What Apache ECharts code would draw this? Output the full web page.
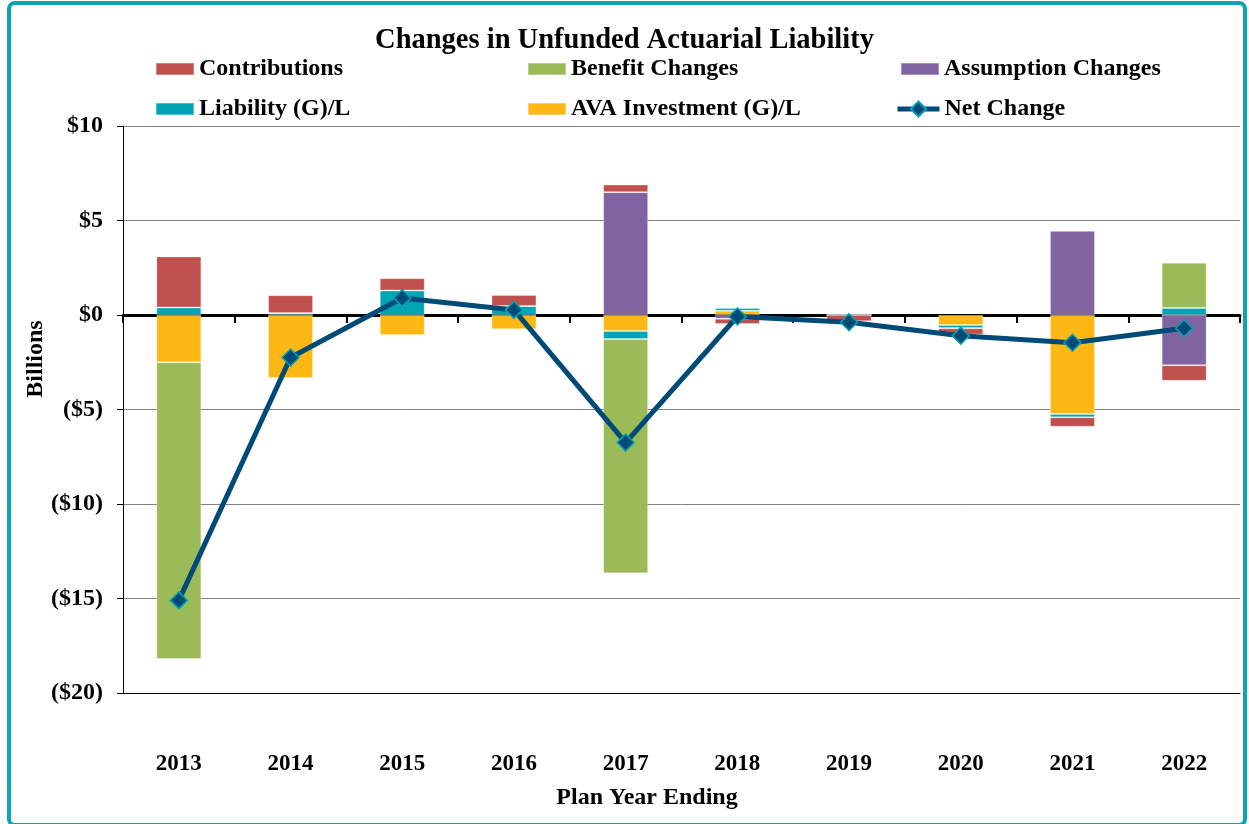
<!DOCTYPE html>
<html>
<head>
<meta charset="utf-8">
<script src="https://cdn.jsdelivr.net/npm/echarts@6/dist/echarts.min.js"></script>
<style>
html,body{margin:0;padding:0;background:#fff;}
#c{width:1249px;height:824px;}
</style>
</head>
<body>
<div id="c"></div>
<script>
var years = ['2013','2014','2015','2016','2017','2018','2019','2020','2021','2022'];
var contributions = [2.7, 0.95, 0.65, 0.58, 0.4, -0.27, -0.33, -0.33, -0.5, -0.82];
var benefitChanges = [-15.7, 0, 0, 0, -12.4, 0, 0, 0, 0, 2.4];
var assumptionChanges = [0, 0, 0, 0, 6.5, -0.2, 0, 0, 4.46, -2.66];
var liabilityGL = [0.4, 0.1, 1.3, 0.48, -0.42, 0.15, 0, -0.17, -0.17, 0.37];
var avaInvestmentGL = [-2.5, -3.33, -1.06, -0.75, -0.85, 0.22, 0, -0.53, -5.24, 0];
var netChange = [-15.1, -2.25, 0.9, 0.27, -6.75, -0.08, -0.38, -1.1, -1.47, -0.7];
var yTicks = {min: -20, max: 10, interval: 5};

var FONT = '"Liberation Serif", "Times New Roman", serif';
var C = {
  contrib: '#C0504D', benefit: '#9BBB59', assump: '#8064A2',
  liab: '#00A5B5', ava: '#FDB813', net: '#004A78'
};

function barSeries(name, data, color) {
  return {
    name: name, type: 'bar', stack: 'total', stackStrategy: 'samesign',
    data: data, barWidth: 45, xAxisIndex: 0, yAxisIndex: 0,
    itemStyle: {color: color, borderColor: 'rgba(255,255,255,0.3)', borderWidth: 1},
    emphasis: {disabled: true}
  };
}

function legendAt(name, left, top, isLine) {
  var lg = {
    data: [{name: name, icon: isLine ? undefined : 'rect'}], left: left, top: top,
    itemWidth: isLine ? 42 : 38, itemHeight: isLine ? 19 : 12, itemGap: 0, padding: 0,
    selectedMode: false,
    textStyle: {fontFamily: FONT, fontWeight: 'bold', fontSize: 24, color: '#000'}
  };
  if (isLine) {
    lg.lineStyle = {width: 5, color: C.net};
  }
  return lg;
}

var chart = echarts.init(document.getElementById('c'), null, {renderer: 'canvas'});
chart.setOption({
  backgroundColor: '#fff',
  animation: false,
  title: {
    text: 'Changes in Unfunded Actuarial Liability',
    left: 'center', top: 21,
    textStyle: {fontFamily: FONT, fontWeight: 'bold', fontSize: 28.5, color: '#000'}
  },
  legend: [
    legendAt('Contributions', 155, 57),
    legendAt('Liability (G)/L', 155, 97),
    legendAt('Benefit Changes', 527, 57),
    legendAt('AVA Investment (G)/L', 527, 97),
    legendAt('Assumption Changes', 900, 57),
    legendAt('Net Change', 895, 97, true)
  ],
  grid: {left: 123, right: 9, top: 126, bottom: 131, containLabel: false},
  xAxis: [
    {
      type: 'category', data: years, position: 'bottom',
      axisLine: {onZero: false, lineStyle: {color: '#000', width: 1}},
      axisTick: {show: false},
      axisLabel: {margin: 60, fontFamily: FONT, fontWeight: 'bold', fontSize: 23, color: '#000'},
      splitLine: {show: false}
    },
    {
      type: 'category', data: years, position: 'top',
      axisLine: {onZero: true, lineStyle: {color: '#000', width: 3}},
      axisTick: {show: true, inside: true, interval: 0, length: 8, lineStyle: {color: '#000', width: 2}},
      axisLabel: {show: false},
      splitLine: {show: false}
    }
  ],
  yAxis: {
    type: 'value', min: yTicks.min, max: yTicks.max, interval: yTicks.interval,
    axisLine: {show: true, lineStyle: {color: '#000', width: 1}},
    axisTick: {show: true, length: 6, lineStyle: {color: '#000'}},
    axisLabel: {
      margin: 20, fontFamily: FONT, fontWeight: 'bold', fontSize: 24, color: '#000',
      formatter: function (v) { return v < 0 ? '($' + (-v) + ')' : '$' + v; }
    },
    splitLine: {show: true, lineStyle: {color: '#808080', width: 1}}
  },
  series: [
    barSeries('AVA Investment (G)/L', avaInvestmentGL, C.ava),
    barSeries('Liability (G)/L', liabilityGL, C.liab),
    barSeries('Assumption Changes', assumptionChanges, C.assump),
    barSeries('Benefit Changes', benefitChanges, C.benefit),
    barSeries('Contributions', contributions, C.contrib),
    {
      name: 'Net Change', type: 'line', data: netChange, xAxisIndex: 0, yAxisIndex: 0,
      z: 10, symbol: 'diamond', symbolSize: 17,
      lineStyle: {color: C.net, width: 5},
      itemStyle: {color: C.net, borderColor: '#00A5B5', borderWidth: 1.5},
      emphasis: {disabled: true}
    }
  ],
  graphic: [
    {
      type: 'text', x: 36, y: 359, rotation: Math.PI / 2, silent: true,
      style: {text: 'Billions', fontFamily: FONT, fontWeight: 'bold', fontSize: 24,
              fill: '#000', align: 'center', verticalAlign: 'middle'}
    },
    {
      type: 'text', x: 647, y: 798, silent: true,
      style: {text: 'Plan Year Ending', fontFamily: FONT, fontWeight: 'bold', fontSize: 24,
              fill: '#000', align: 'center', verticalAlign: 'middle'}
    },
    {
      type: 'rect', z: 100, silent: true,
      shape: {x: 9, y: 3, width: 1236, height: 822, r: 6},
      style: {fill: null, stroke: '#0AA5B5', lineWidth: 4}
    }
  ]
});
</script>
</body>
</html>
